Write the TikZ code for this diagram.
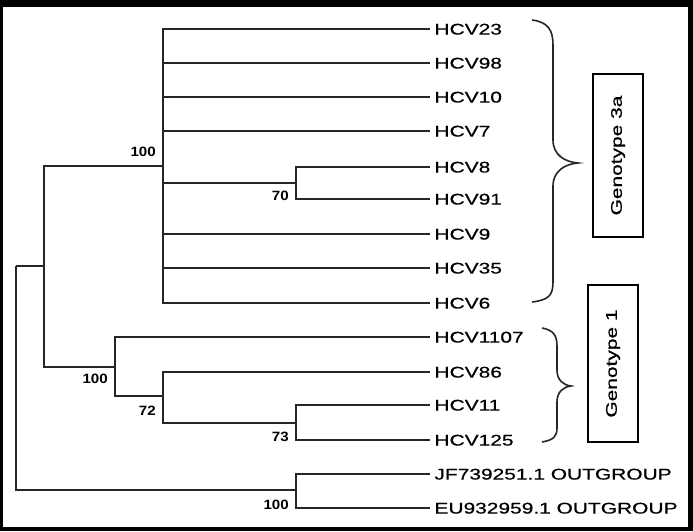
\documentclass[tikz,border=0pt]{standalone}
\usepackage{fontspec}
\newfontfamily\labfont[FakeStretch=1.35,FakeBold=0.6]{Liberation Sans}
\newfontfamily\bootfont[FakeStretch=1.12]{Liberation Sans Bold}
\begin{document}
\begin{tikzpicture}[x=1pt,y=-1pt,
  branch/.style={line width=1.8pt, line join=miter, draw=black!85},
  leaf/.style={anchor=west, inner xsep=4.5pt, inner ysep=0pt, outer sep=0pt,
    font=\labfont\fontsize{15.5}{18}\selectfont, text height=11.1pt, text depth=0pt},
  boot/.style={anchor=east, inner sep=0pt, font=\bootfont\fontsize{13.5}{16}\selectfont},
  gbox/.style={draw, line width=1.6pt, inner sep=0pt, minimum height=50pt, rotate=90,
    font=\labfont\fontsize{15.5}{18}\selectfont},
  brace/.style={line width=1.6pt, draw=black!85}]
\useasboundingbox (0,0) rectangle (693,531);
\fill[black] (0,0) rectangle (693,531);
\fill[white] (3,7) rectangle (688,527);

% leaves
\node[leaf] (l23)   at (430,29)  {HCV23};
\node[leaf] (l98)   at (430,63)  {HCV98};
\node[leaf] (l10)   at (430,97)  {HCV10};
\node[leaf] (l7)    at (430,131) {HCV7};
\node[leaf] (l8)    at (430,167) {HCV8};
\node[leaf] (l91)   at (430,199) {HCV91};
\node[leaf] (l9)    at (430,234) {HCV9};
\node[leaf] (l35)   at (430,268) {HCV35};
\node[leaf] (l6)    at (430,303) {HCV6};
\node[leaf] (l1107) at (430,337) {HCV1107};
\node[leaf] (l86)   at (430,372) {HCV86};
\node[leaf] (l11)   at (430,405) {HCV11};
\node[leaf] (l125)  at (430,440) {HCV125};
\node[leaf] (lJF)   at (430,474) {JF739251.1 OUTGROUP};
\node[leaf] (lEU)   at (430,508) {EU932959.1 OUTGROUP};

% internal nodes
\coordinate (R)   at (16,266);
\coordinate (A)   at (44,266);
\coordinate (G3)  at (163,166);
\coordinate (n70) at (296,183);
\coordinate (G1)  at (115,367);
\coordinate (n72) at (163,396);
\coordinate (n73) at (296,423);
\coordinate (OG)  at (296,490);

% branches
\draw[branch] (R) |- (A);
\draw[branch] (R) |- (OG);
\draw[branch] (A) |- (G3);
\draw[branch] (A) |- (G1);
\foreach \l in {l23,l98,l10,l7,l9,l35,l6} \draw[branch] (G3) |- (\l.west);
\draw[branch] (G3) |- (n70);
\draw[branch] (n70) |- (l8.west);
\draw[branch] (n70) |- (l91.west);
\draw[branch] (G1) |- (l1107.west);
\draw[branch] (G1) |- (n72);
\draw[branch] (n72) |- (l86.west);
\draw[branch] (n72) |- (n73);
\draw[branch] (n73) |- (l11.west);
\draw[branch] (n73) |- (l125.west);
\draw[branch] (OG) |- (lJF.west);
\draw[branch] (OG) |- (lEU.west);

% bootstrap values
\node[boot] (b1) at (156,152) {100};
\node[boot] (b2) at (289,196) {70};
\node[boot] (b3) at (108,379) {100};
\node[boot] (b4) at (156,411) {72};
\node[boot] (b5) at (289,437) {73};
\node[boot] (b6) at (289,505) {100};

% braces
\draw[brace] (532,20) .. controls (548,22) and (553,30) .. (553,45) -- (553,140)
  .. controls (553,155) and (565,162) .. (578,163)
  .. controls (565,164) and (553,171) .. (553,186) -- (553,282)
  .. controls (553,296) and (548,300) .. (532,302);
\draw[brace] (542,328) .. controls (553,330) and (557,335) .. (557,346) -- (557,370)
  .. controls (557,380) and (563,385) .. (571,386)
  .. controls (563,387) and (557,392) .. (557,402) -- (557,428)
  .. controls (557,437) and (553,440) .. (542,442);

% genotype boxes
\node[gbox, minimum width=163pt] (g3a) at (618,155.5) {Genotype 3a};
\node[gbox, minimum width=157pt] (g1) at (613,363.5) {Genotype 1};
\end{tikzpicture}
\end{document}
